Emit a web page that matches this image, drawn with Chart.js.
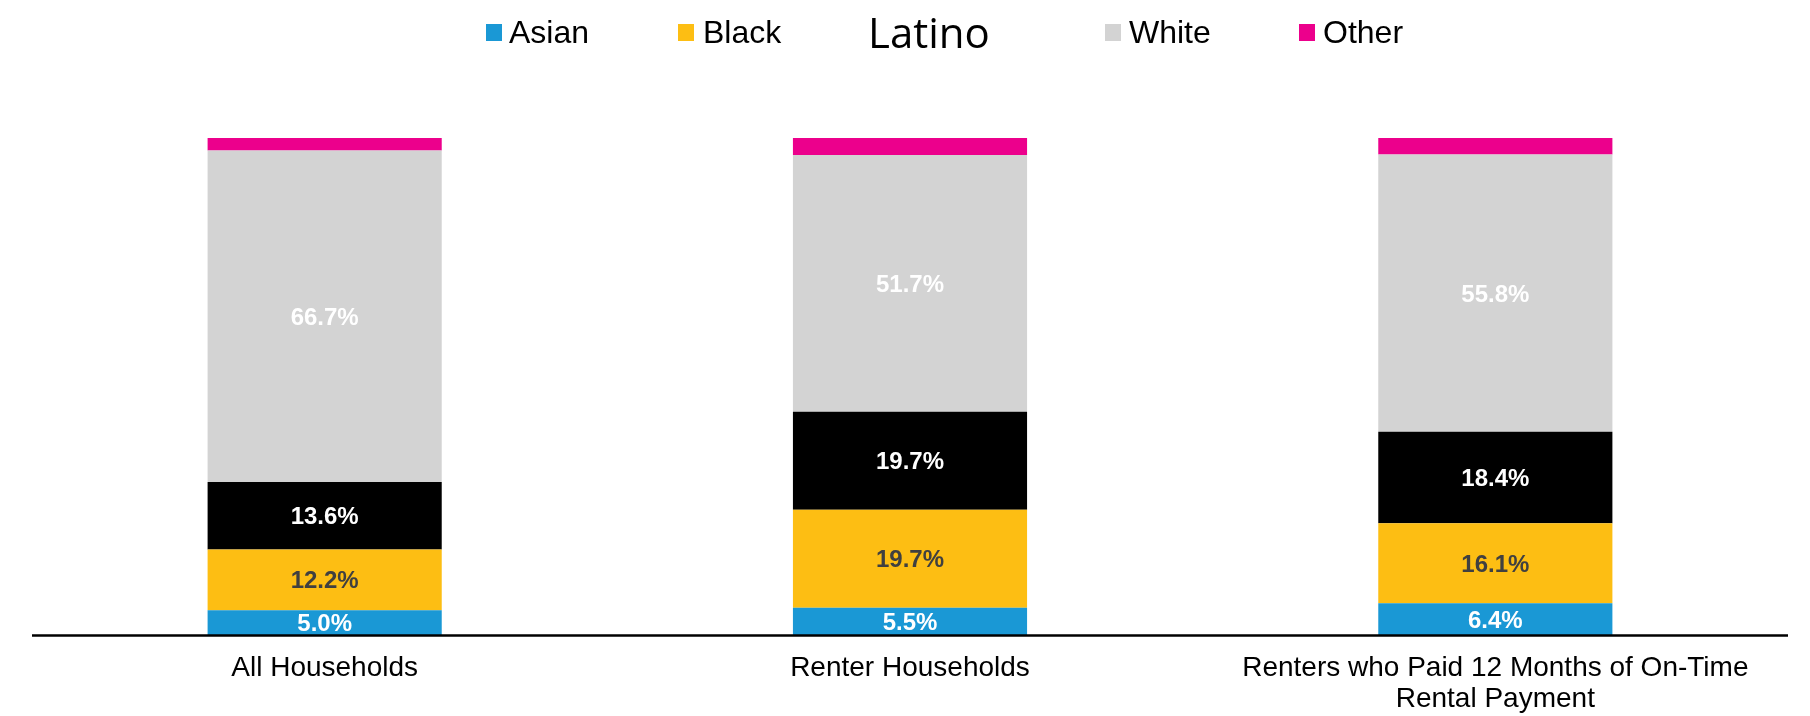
<!DOCTYPE html>
<html>
<head>
<meta charset="utf-8">
<script src="https://cdn.jsdelivr.net/npm/chart.js@4"></script>
<style>
  html, body { margin: 0; padding: 0; background: #ffffff; }
  #wrap { width: 1810px; height: 716px; }
</style>
</head>
<body>
<div id="wrap"><canvas id="c" width="1810" height="716"></canvas></div>
<script>
// Household composition by race / ethnicity (percent of each group)
const categories = [
  'All Households',
  'Renter Households',
  ['Renters who Paid 12 Months of On-Time', 'Rental Payment']
];
const seriesNames = ['Asian', 'Black', 'Latino', 'White', 'Other'];
const asian  = [5.0, 5.5, 6.4];
const black  = [12.2, 19.7, 16.1];
const latino = [13.6, 19.7, 18.4];
const white  = [66.7, 51.7, 55.8];
const other  = [2.5, 3.4, 3.3];

// Presentation settings
const COLORS = ['#1A98D5', '#FDBE13', '#000000', '#D3D3D3', '#EC008C'];
const LABEL_COLORS = ['#ffffff', '#404040', '#ffffff', '#ffffff', null];
const SANS = '"Liberation Sans", Arial, sans-serif';

// Legend row: box x and text x per entry (Latino shown as text only)
const legendLayout = [
  { box: 486,  text: 509,  font: '32px ' + SANS, baseline: 43 },
  { box: 678,  text: 703,  font: '32px ' + SANS, baseline: 43 },
  { box: null, text: 868,  font: '42px "Open Sans", sans-serif', baseline: 48 },
  { box: 1105, text: 1129, font: '32px ' + SANS, baseline: 43 },
  { box: 1299, text: 1323, font: '32px ' + SANS, baseline: 43 }
];

const values = [asian, black, latino, white, other];

const legendPlugin = {
  id: 'rowLegend',
  afterDraw(chart) {
    const ctx = chart.ctx;
    ctx.save();
    legendLayout.forEach((item, i) => {
      if (item.box !== null) {
        ctx.fillStyle = COLORS[i];
        ctx.fillRect(item.box, 24, 16, 17);
      }
      ctx.fillStyle = '#000000';
      ctx.font = item.font;
      ctx.textAlign = 'left';
      ctx.textBaseline = 'alphabetic';
      ctx.fillText(seriesNames[i], item.text, item.baseline);
    });
    ctx.restore();
  }
};

const valueLabels = {
  id: 'valueLabels',
  afterDatasetsDraw(chart) {
    const ctx = chart.ctx;
    ctx.save();
    ctx.font = 'bold 24px ' + SANS;
    ctx.textAlign = 'center';
    ctx.textBaseline = 'middle';
    chart.data.datasets.forEach((ds, di) => {
      const color = LABEL_COLORS[di];
      if (!color) return;
      chart.getDatasetMeta(di).data.forEach((bar, i) => {
        const c = bar.getCenterPoint();
        ctx.fillStyle = color;
        ctx.fillText(ds.data[i].toFixed(1) + '%', c.x, c.y + 2);
      });
    });
    ctx.restore();
  }
};

const baseline = {
  id: 'baseline',
  afterDatasetsDraw(chart) {
    const ctx = chart.ctx;
    const y = chart.scales.y.getPixelForValue(0);
    const area = chart.chartArea;
    ctx.save();
    ctx.strokeStyle = '#000000';
    ctx.lineWidth = 2.5;
    ctx.beginPath();
    ctx.moveTo(area.left, y + 0.5);
    ctx.lineTo(area.right, y + 0.5);
    ctx.stroke();
    ctx.restore();
  }
};

new Chart(document.getElementById('c'), {
  type: 'bar',
  data: {
    labels: categories,
    datasets: seriesNames.map((name, i) => ({
      label: name,
      data: values[i],
      backgroundColor: COLORS[i],
      borderWidth: 0,
      categoryPercentage: 1.0,
      barPercentage: 0.4
    }))
  },
  options: {
    responsive: false,
    devicePixelRatio: 1,
    animation: false,
    layout: { padding: { top: 138, left: 32, right: 22, bottom: 0 } },
    plugins: {
      legend: { display: false },
      tooltip: { enabled: false }
    },
    scales: {
      x: {
        stacked: true,
        grid: { display: false, drawTicks: false },
        border: { display: false },
        ticks: {
          color: '#000000',
          font: { family: SANS, size: 28, lineHeight: 1.1 },
          padding: 18,
          maxRotation: 0,
          autoSkip: false
        },
        afterFit(scale) { scale.height = 81; }
      },
      y: {
        stacked: true,
        display: false,
        min: 0,
        max: 100
      }
    }
  },
  plugins: [legendPlugin, valueLabels, baseline]
});
</script>
</body>
</html>
